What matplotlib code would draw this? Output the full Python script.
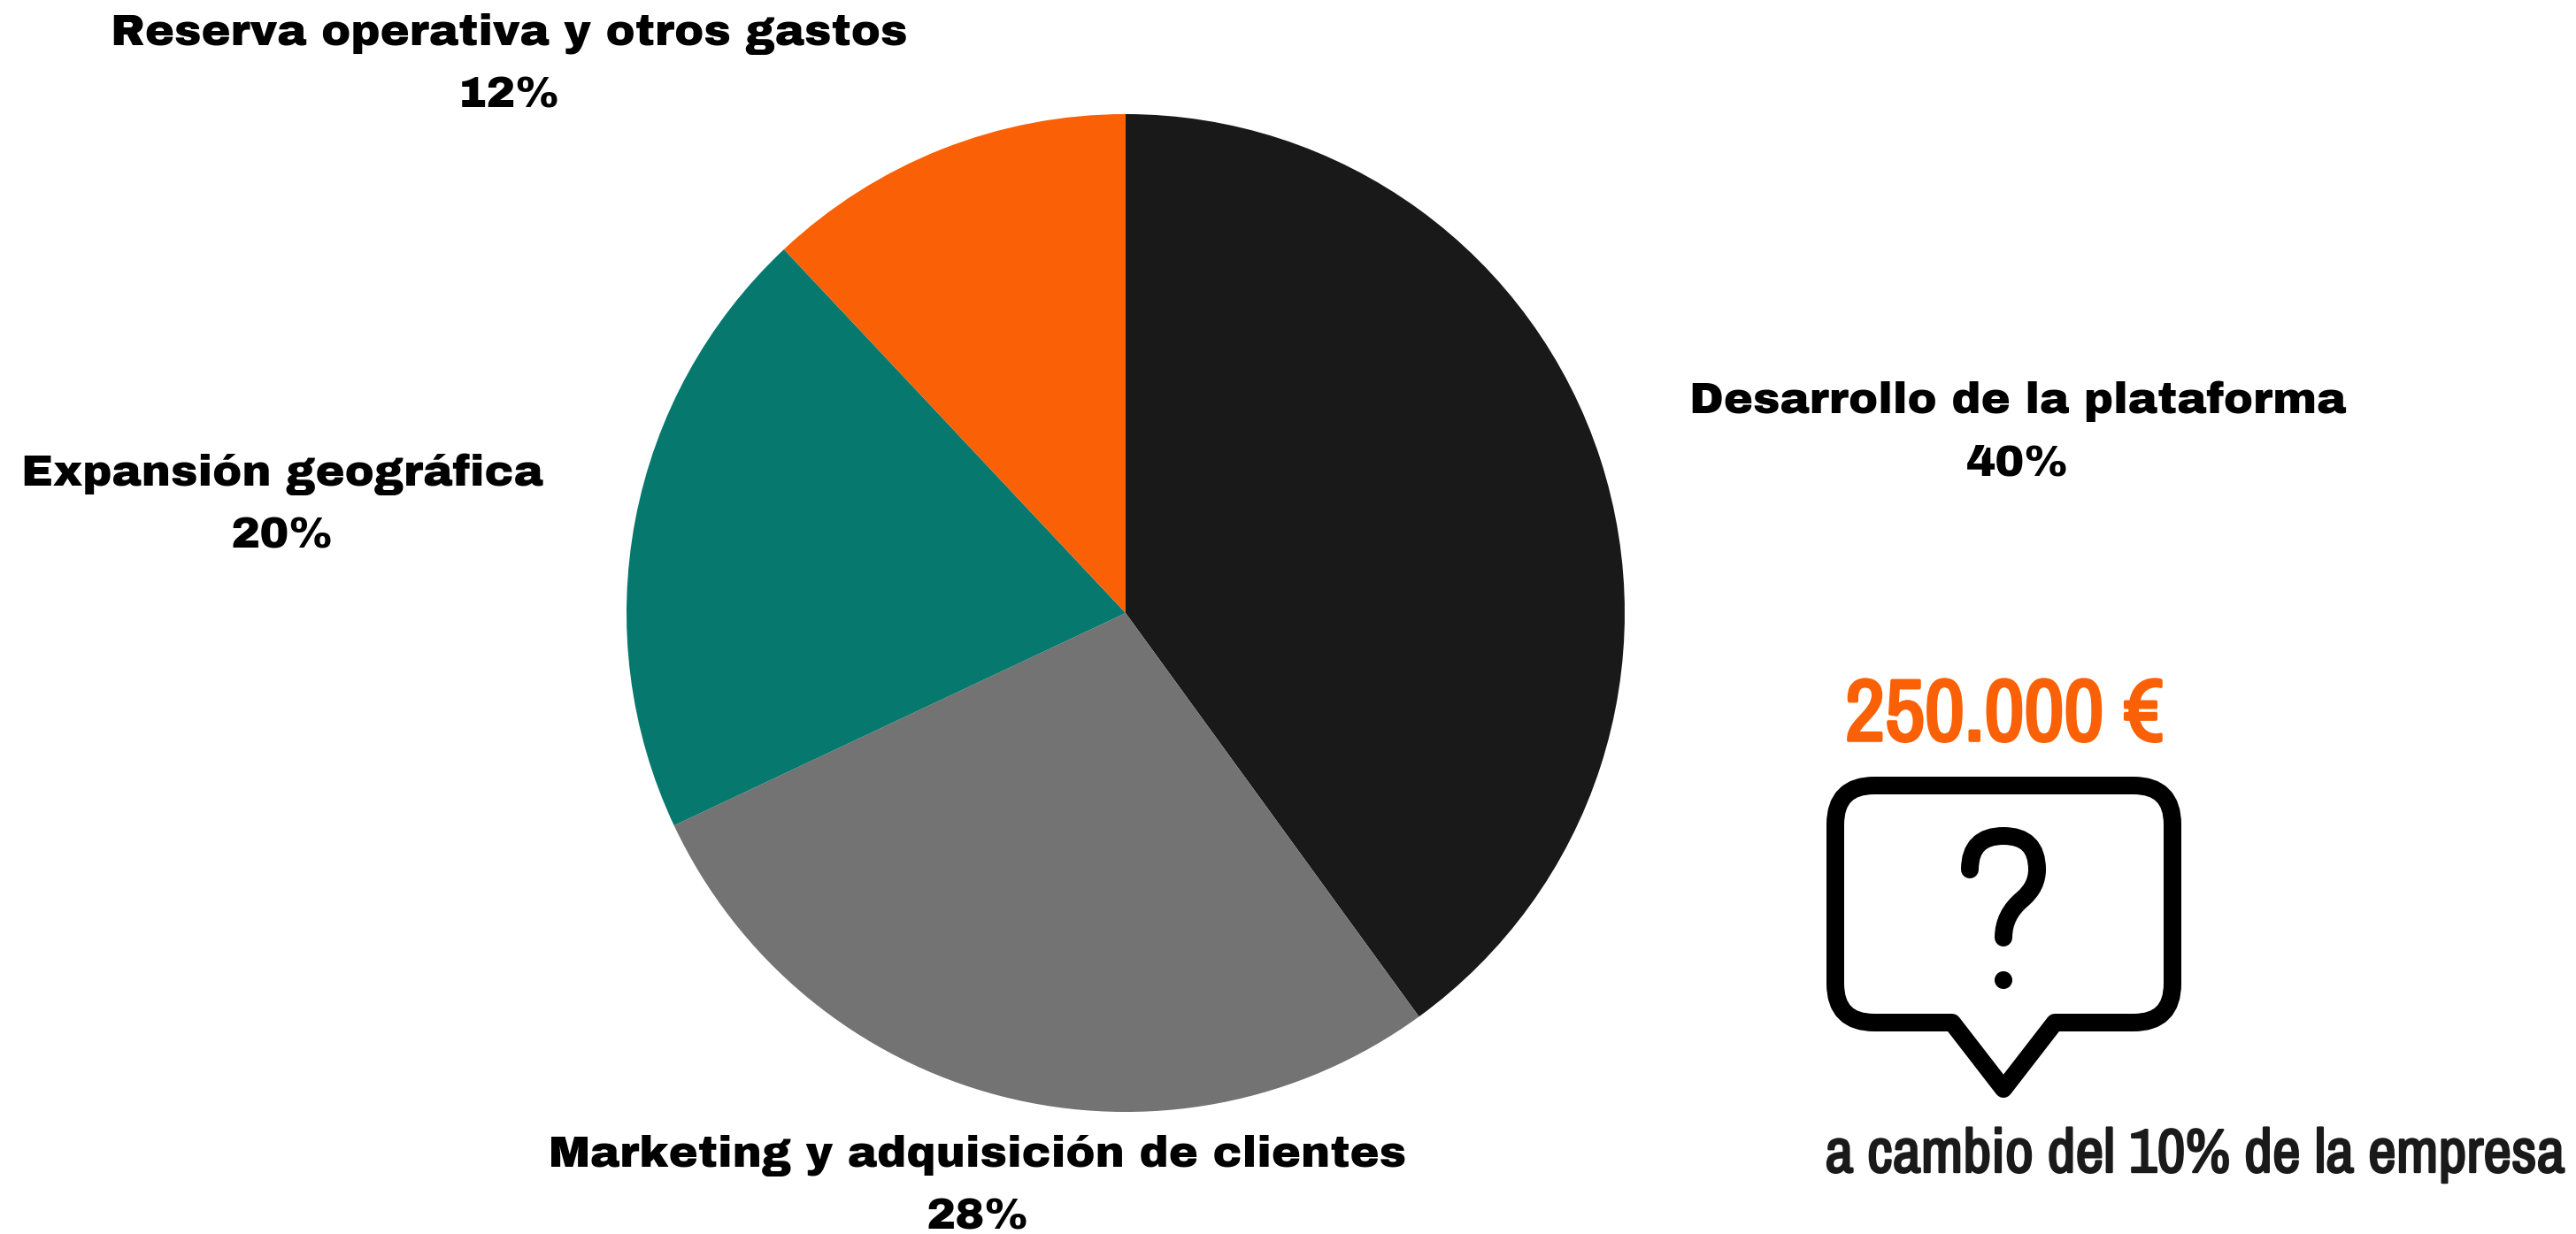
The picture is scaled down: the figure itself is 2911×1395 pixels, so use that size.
import matplotlib
matplotlib.use('Agg')
from matplotlib import pyplot as plt
from matplotlib import patheffects
from matplotlib.path import Path
from matplotlib.patches import PathPatch, Circle

W, H = 2911, 1395

labels = ['Desarrollo de la plataforma', 'Marketing y adquisición de clientes',
          'Expansión geográfica', 'Reserva operativa y otros gastos']
values = [40, 28, 20, 12]
colors = ['#191919', '#737373', '#06786d', '#fa6005']

# centre x, label baseline, percent baseline (pixels)
label_pos = [(2280, 467, 538), (1105, 1319, 1390), (319, 549, 620), (575, 51, 122)]

amount = '250.000 €'
caption = 'a cambio del 10% de la empresa'

fig = plt.figure(figsize=(W / 100, H / 100), dpi=100, facecolor='w')

# pie
cx, cy, r = 1272, 693, 564
ax_pie = fig.add_axes([(cx - r) / W, 1 - (cy + r) / H, 2 * r / W, 2 * r / H])
ax_pie.pie(values, colors=colors, startangle=90, counterclock=False, radius=1,
           wedgeprops={'linewidth': 0})
ax_pie.set_xlim(-1, 1)
ax_pie.set_ylim(-1, 1)

# overlay in pixel coordinates for texts and the icon
ax = fig.add_axes([0, 0, 1, 1])
ax.set_xlim(0, W)
ax.set_ylim(H, 0)
ax.axis('off')

heavy = ['Archivo Black', 'DejaVu Sans']
for label, value, (x, y1, y2) in zip(labels, values, label_pos):
    ax.text(x, y1, label, ha='center', va='baseline', color='#000000',
            family=heavy, fontsize=35.9)
    ax.text(x, y2, '{}%'.format(value), ha='center', va='baseline', color='#000000',
            family=heavy, fontsize=35.9)

# the narrow font only comes in regular weight here, thicken it with a stroke
narrow = ['Archivo Narrow', 'Liberation Sans', 'DejaVu Sans']
t1 = ax.text(2265, 837, amount, ha='center', va='baseline', color='#fa6005',
             family=narrow, fontsize=71)
t1.set_path_effects([patheffects.withStroke(linewidth=2.6, foreground='#fa6005')])
t2 = ax.text(2480, 1325, caption, ha='center', va='baseline', color='#1a1a1a',
             family=narrow, fontsize=50.2)
t2.set_path_effects([patheffects.withStroke(linewidth=1.7, foreground='#1a1a1a')])

# speech bubble
l, t, rt, b, c = 2074, 888, 2455, 1156, 44
verts = [(l + c, t), (rt - c, t), (rt, t), (rt, t + c), (rt, b - c), (rt, b), (rt - c, b),
         (2322, b), (2264, 1231), (2206, b), (l + c, b), (l, b), (l, b - c),
         (l, t + c), (l, t), (l + c, t), (l + c, t)]
codes = [Path.MOVETO, Path.LINETO, Path.CURVE3, Path.CURVE3, Path.LINETO, Path.CURVE3, Path.CURVE3,
         Path.LINETO, Path.LINETO, Path.LINETO, Path.LINETO, Path.CURVE3, Path.CURVE3,
         Path.LINETO, Path.CURVE3, Path.CURVE3, Path.CLOSEPOLY]
lw = 20 * 72 / 100
ax.add_patch(PathPatch(Path(verts, codes), facecolor='none', edgecolor='k', lw=lw,
                       joinstyle='round', capstyle='round'))

# question mark
q_verts = [(2226, 983), (2226, 945), (2264, 945), (2302, 945), (2302, 983),
           (2302, 1002), (2286, 1016), (2264, 1034), (2264, 1060)]
q_codes = [Path.MOVETO, Path.CURVE3, Path.CURVE3, Path.CURVE3, Path.CURVE3,
           Path.CURVE3, Path.CURVE3, Path.CURVE3, Path.CURVE3]
ax.add_patch(PathPatch(Path(q_verts, q_codes), facecolor='none', edgecolor='k', lw=lw,
                       capstyle='round', joinstyle='round'))
ax.add_patch(Circle((2264, 1108), 10, facecolor='k', edgecolor='none'))

plt.savefig('out.png', dpi=100)
